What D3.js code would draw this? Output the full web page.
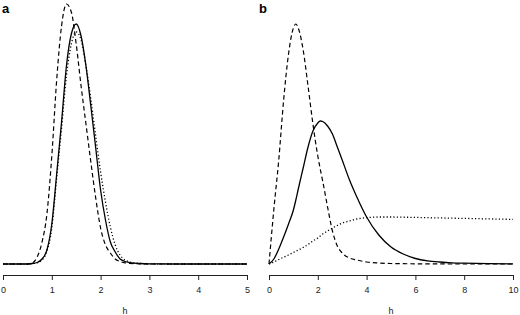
<!DOCTYPE html>
<html>
<head>
<meta charset="utf-8">
<script src="https://cdn.jsdelivr.net/npm/d3@7"></script>
<style>
  body { margin: 0; background: #fff; }
  svg { display: block; font-family: "Liberation Sans", Arial, sans-serif; }
</style>
</head>
<body>
<div id="chart"></div>
<script>
// panel a: h grid and three density curves (arbitrary units)
var hA = [0, 0.5, 0.6, 0.7, 0.8, 0.9, 1.0, 1.1, 1.2, 1.3, 1.4, 1.5, 1.6, 1.7, 1.8, 1.9, 2.0, 2.1, 2.2, 2.3, 2.4, 2.5, 2.6, 2.8, 3.0, 3.5, 4.0, 5.0];
var aSolid  = [0, 0, 0.005, 0.015, 0.05, 0.14, 0.40, 0.90, 1.42, 1.98, 2.30, 2.40, 2.28, 1.98, 1.58, 1.16, 0.74, 0.44, 0.22, 0.12, 0.05, 0.025, 0.014, 0.005, 0.001, 0, 0, 0];
var aDashed = [0, 0, 0.01, 0.07, 0.22, 0.50, 1.08, 1.84, 2.38, 2.60, 2.52, 2.20, 1.78, 1.40, 1.02, 0.66, 0.36, 0.19, 0.11, 0.05, 0.025, 0.012, 0.006, 0.002, 0, 0, 0, 0];
var aDotted = [0, 0, 0.004, 0.012, 0.04, 0.13, 0.36, 0.86, 1.36, 1.88, 2.20, 2.32, 2.24, 1.98, 1.65, 1.28, 0.92, 0.62, 0.37, 0.19, 0.09, 0.04, 0.02, 0.006, 0.002, 0, 0, 0];

// panel b
var hB = [0, 0.2, 0.4, 0.6, 0.8, 1.0, 1.1, 1.2, 1.4, 1.6, 1.8, 2.0, 2.1, 2.2, 2.4, 2.6, 2.8, 3.0, 3.3, 3.6, 4.0, 4.5, 5.0, 5.5, 6.0, 6.5, 7.0, 7.5, 8.0, 9.0, 10.0];
var bSolid  = [0, 0.05, 0.15, 0.27, 0.40, 0.54, 0.64, 0.75, 0.96, 1.17, 1.33, 1.41, 1.43, 1.425, 1.38, 1.30, 1.17, 1.04, 0.84, 0.67, 0.47, 0.29, 0.17, 0.10, 0.055, 0.032, 0.02, 0.012, 0.008, 0.003, 0.001];
var bDashed = [0, 0.55, 1.04, 1.64, 2.10, 2.36, 2.40, 2.36, 2.14, 1.78, 1.40, 1.08, 0.95, 0.83, 0.57, 0.33, 0.18, 0.11, 0.06, 0.04, 0.02, 0.01, 0.005, 0.003, 0.002, 0.001, 0.001, 0, 0, 0, 0];
var bDotted = [0, 0.02, 0.045, 0.068, 0.09, 0.115, 0.128, 0.14, 0.165, 0.195, 0.23, 0.26, 0.28, 0.30, 0.33, 0.36, 0.385, 0.41, 0.43, 0.45, 0.463, 0.47, 0.47, 0.468, 0.466, 0.463, 0.461, 0.458, 0.456, 0.451, 0.446];

var ticksA = [0, 1, 2, 3, 4, 5];
var ticksB = [0, 2, 4, 6, 8, 10];

var w = 520, h = 315;
var svg = d3.select("#chart").append("svg")
    .attr("width", w)
    .attr("height", h);

var styles = {
    solid:  { dash: null,      width: 1.3 },
    dashed: { dash: "4.5,3",   width: 1.2 },
    dotted: { dash: "1.2,2.2", width: 1.3 }
};

function panel(letter, xs, series, xmax, ticks, x0, x1, letterX) {
    var x = d3.scaleLinear().domain([0, xmax]).range([x0, x1]);
    var y = d3.scaleLinear().domain([0, 2.64]).range([264, 0]);

    var line = d3.line()
        .x(function(d) { return x(d[0]); })
        .y(function(d) { return y(d[1]); })
        .curve(d3.curveMonotoneX);

    var g = svg.append("g");

    series.forEach(function(s) {
        var pts = xs.map(function(v, i) { return [v, s.values[i]]; });
        g.append("path")
            .attr("d", line(pts))
            .attr("fill", "none")
            .attr("stroke", "#000")
            .attr("stroke-width", styles[s.style].width)
            .attr("stroke-dasharray", styles[s.style].dash);
    });

    var axis = g.append("g")
        .attr("transform", "translate(0,275)")
        .call(d3.axisBottom(x).tickValues(ticks).tickFormat(d3.format("d"))
            .tickSize(5).tickSizeOuter(0).tickPadding(7));
    axis.selectAll("path, line").attr("stroke", "#222");
    axis.selectAll("text").attr("font-size", 9).attr("fill", "#222")
        .attr("font-family", "Liberation Sans, Arial, sans-serif");

    g.append("text")
        .attr("x", (x0 + x1) / 2)
        .attr("y", 314)
        .attr("text-anchor", "middle")
        .attr("font-size", 9)
        .attr("fill", "#222")
        .text("h");

    g.append("text")
        .attr("x", letterX)
        .attr("y", 13)
        .attr("font-size", 13)
        .attr("font-weight", "bold")
        .attr("fill", "#000")
        .text(letter);
}

panel("a", hA, [
    { values: aDotted, style: "dotted" },
    { values: aDashed, style: "dashed" },
    { values: aSolid,  style: "solid" }
], 5, ticksA, 3, 247, 2);

panel("b", hB, [
    { values: bDotted, style: "dotted" },
    { values: bDashed, style: "dashed" },
    { values: bSolid,  style: "solid" }
], 10, ticksB, 269, 513, 259);
</script>
</body>
</html>
